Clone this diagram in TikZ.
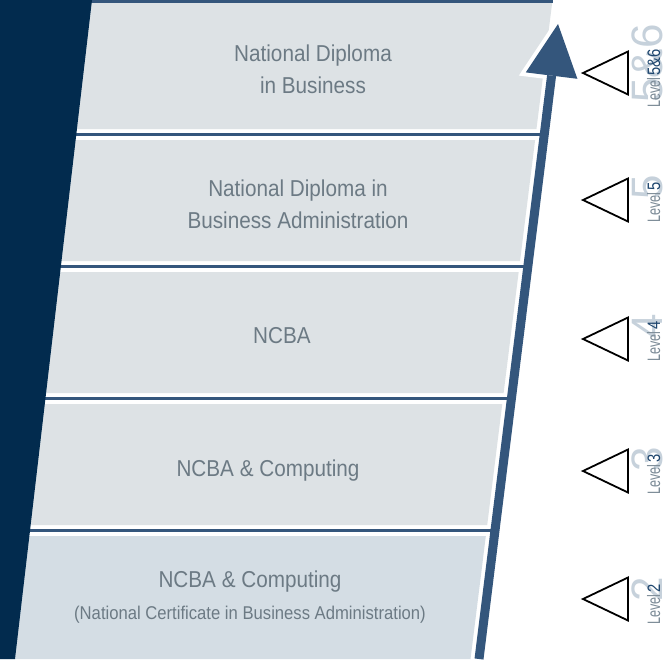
\documentclass[tikz,border=0pt]{standalone}
\usepackage{fontspec}
\setmainfont[FakeStretch=0.9]{Liberation Sans}
\newfontfamily\levelfont[FakeStretch=0.7]{Liberation Sans}
\newfontfamily\levelnumfont[FakeStretch=0.82]{Liberation Sans}
\newfontfamily\bignumfont{Liberation Sans}
\usetikzlibrary{backgrounds, calc}
\definecolor{navy}{RGB}{2,43,78}
\definecolor{arrowblue}{RGB}{52,86,124}
\definecolor{bandgray}{RGB}{221,226,229}
\definecolor{bandblue}{RGB}{212,221,228}
\definecolor{coursegray}{RGB}{108,122,132}
\definecolor{levelgray}{RGB}{124,139,151}
\definecolor{levelblue}{RGB}{30,70,110}
\definecolor{levelpale}{RGB}{198,209,219}

\begin{document}
\begin{tikzpicture}[x=1pt, y=-1pt,
    course/.style={align=center, text=coursegray, inner sep=0pt, font=\fontsize{23}{32}\selectfont},
    levelword/.style={rotate=90, anchor=base west, inner sep=0pt, text=levelgray, font=\levelfont\fontsize{18}{18}\selectfont},
    levelnum/.style={rotate=90, anchor=base west, inner sep=0pt, text=levelblue, font=\levelnumfont\fontsize{18}{18}\selectfont},
    levelbig/.style={rotate=90, anchor=base, inner sep=0pt, text=levelpale, font=\bignumfont\fontsize{44}{44}\selectfont},
    levelmark/.style={draw=black, line width=1.8pt, line join=miter},
    sepline/.style={draw=arrowblue, line width=3pt}]
    \useasboundingbox (0,0) rectangle (668,659);
    \begin{pgfonlayer}{background}
        \fill[white] (0,0) rectangle (668,659);
    \end{pgfonlayer}

    % Bands
    \fill[arrowblue] (80,0) rectangle (553,3.2);
    \foreach \t/\b/\c in {3/129/bandgray, 140/261/bandgray, 272/393/bandgray, 404/525/bandgray, 536/659/bandblue}
        \fill[\c] (0,\t) -- ({552.5-0.1244*\t},\t) -- ({552.5-0.1244*\b},\b) -- (0,\b) -- cycle;
    \foreach \y in {134.5, 266.5, 398.5, 530.5}
        \draw[sepline] (0,\y) -- ({479+0.1244*(659-\y)},\y);
    \fill[navy] (0,0) -- (92,0) -- (15,659) -- (0,659) -- cycle;

    % Arrow
    \coordinate (tail) at (479,659);
    \coordinate (tip) at (558,24);
    \coordinate (hbase) at ($(tip)!52pt!(tail)$);
    \coordinate (hl) at ($(hbase)!26pt!90:(tip)$);
    \coordinate (hr) at ($(hbase)!26pt!-90:(tip)$);
    \filldraw[white, line width=8pt, line join=miter] (tip) -- (hl) -- (hr) -- cycle;
    \draw[arrowblue, line width=9pt] (tail) -- (hbase);
    \fill[arrowblue] (tip) -- (hl) -- (hr) -- cycle;

    % Courses
    \node[course] (dipbus) at (313,69.6) {National Diploma\\in Business};
    \node[course] (dipadmin) at (298,204) {National Diploma in\\Business Administration};
    \node[course] (ncba) at (282,336) {NCBA};
    \node[course] (ncbacomp) at (268,470.3) {NCBA \& Computing};
    \node[course] (ncbacert) at (250,597) {NCBA \& Computing\\{\fontsize{18.5}{22}\selectfont(National Certificate in Business Administration)}};

    % Levels
    \foreach \c in {73, 200, 339, 471, 599}
        \draw[levelmark] (628,\c-21.5) -- (583,\c) -- (628,\c+21.5) -- cycle;
    \foreach \n/\b [count=\i] in {5\&6/108, 5/223, 4/362, 3/495, 2/625} {
        \node[levelword] (lv\i) at (660,\b) {Level};
        \node[levelnum] (num\i) at (lv\i.base east) {\kern1.5pt\n};
        \begin{pgfonlayer}{background}
            \node[levelbig] (big\i) at ($(num\i.base)+(2.5,0)$) {\n};
        \end{pgfonlayer}
    }
\end{tikzpicture}
\end{document}
